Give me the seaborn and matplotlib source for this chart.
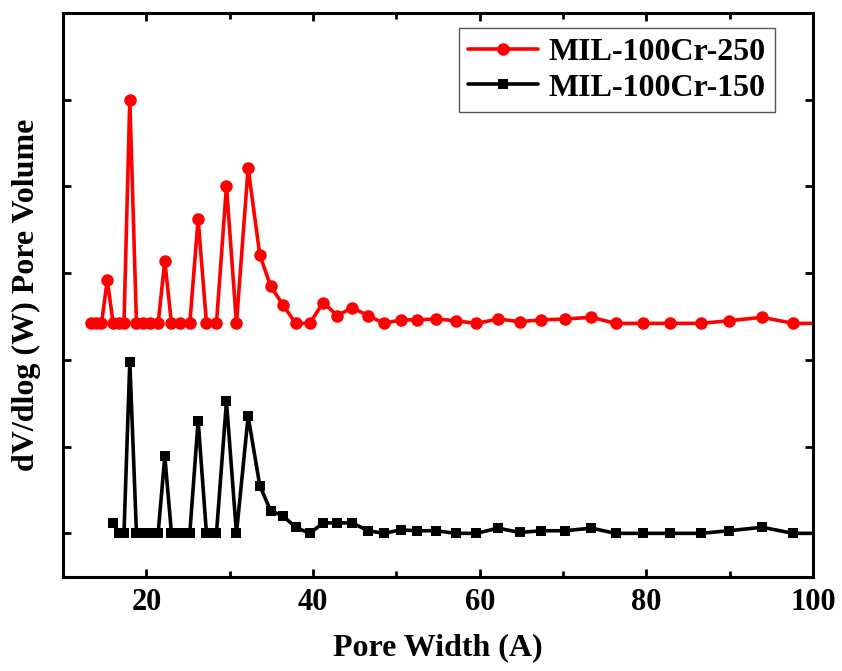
import numpy as np
import pandas as pd
import seaborn as sns
from matplotlib import pyplot as plt
from matplotlib.ticker import MultipleLocator, NullFormatter

# Pore width grid (A) shared by both samples
pore_width = [13.4, 14.0, 14.6, 15.3, 16.0, 16.7, 17.3, 18.0, 18.8, 19.6,
              20.4, 21.4, 22.2, 23.0, 24.0, 25.2, 26.2, 27.2, 28.4, 29.6,
              30.8, 32.2, 33.6, 34.9, 36.4, 37.9, 39.6, 41.2, 42.9, 44.7,
              46.6, 48.5, 50.5, 52.5, 54.8, 57.1, 59.6, 62.2, 64.8, 67.3,
              70.2, 73.4, 76.3, 79.6, 82.8, 86.5, 89.9, 93.9, 97.6, 101.5]

# dV/dlog(W) (offset curves, arbitrary units)
pv_250 = [2.42, 2.42, 2.42, 2.92, 2.42, 2.42, 2.42, 5.00, 2.42, 2.42,
          2.42, 2.42, 3.14, 2.42, 2.42, 2.42, 3.62, 2.42, 2.42, 4.00,
          2.42, 4.21, 3.21, 2.85, 2.63, 2.42, 2.42, 2.66, 2.51, 2.60,
          2.51, 2.42, 2.46, 2.46, 2.47, 2.45, 2.42, 2.47, 2.44, 2.46,
          2.47, 2.49, 2.42, 2.42, 2.42, 2.42, 2.45, 2.49, 2.42, 2.42]

# the 150 sample starts at 16.0 A
pv_150 = [0.12, 0.00, 0.00, 1.98, 0.00, 0.00,
          0.00, 0.00, 0.89, 0.00, 0.00, 0.00, 1.30, 0.00, 0.00, 1.52,
          0.00, 1.35, 0.55, 0.26, 0.20, 0.07, 0.00, 0.12, 0.12, 0.12,
          0.03, 0.00, 0.04, 0.03, 0.03, 0.00, 0.00, 0.06, 0.01, 0.03,
          0.03, 0.06, 0.00, 0.00, 0.00, 0.00, 0.03, 0.07, 0.00, 0.00]

labels = ['MIL-100Cr-250', 'MIL-100Cr-150']

sns.set_style("ticks")
plt.rcParams['font.family'] = ['Liberation Serif', 'DejaVu Serif']
plt.rcParams['font.weight'] = 'bold'
plt.rcParams['text.color'] = 'black'
plt.rcParams['axes.labelcolor'] = 'black'
plt.rcParams['xtick.color'] = 'black'
plt.rcParams['ytick.color'] = 'black'
plt.rcParams['axes.edgecolor'] = 'black'

fig = plt.figure(figsize=(8.42, 6.71), dpi=100)
ax = fig.add_axes([0.075, 0.1405, 0.8906, 0.8405])

sns.lineplot(x=pore_width, y=pv_250, color='#ff0000', marker='o', markersize=9,
             markeredgewidth=0, linewidth=2.6, label=labels[0], ax=ax)
sns.lineplot(x=pore_width[4:], y=pv_150, color='black', marker='s', markersize=7.5,
             markeredgewidth=0, linewidth=2.6, label=labels[1], ax=ax)

ax.set_xlim(10, 100)
ax.set_ylim(-0.5, 6.0)
ax.xaxis.set_major_locator(MultipleLocator(20))
ax.xaxis.set_minor_locator(MultipleLocator(10))
ax.yaxis.set_major_locator(MultipleLocator(1))
ax.yaxis.set_major_formatter(NullFormatter())
ax.tick_params(axis='both', which='both', direction='in', top=True, right=True, width=2)
ax.tick_params(which='major', length=6, labelsize=22, pad=8)
ax.tick_params(which='minor', length=4)
for lab in ax.get_xticklabels():
    lab.set_fontweight('bold')
for s in ax.spines.values():
    s.set_linewidth(2.2)

ax.set_xlabel('Pore Width (A)', fontsize=23, fontweight='bold', labelpad=12)
ax.set_ylabel('dV/dlog (W) Pore Volume', fontsize=23, fontweight='bold', labelpad=8)

leg = ax.legend(loc='upper right', bbox_to_anchor=(0.949, 0.973), borderaxespad=0,
                frameon=True, fancybox=False, handlelength=2.2, handletextpad=0.3,
                borderpad=0.3, labelspacing=0.2, prop={'weight': 'bold', 'size': 23})
leg.get_frame().set_edgecolor('#555555')
leg.get_frame().set_linewidth(1)
leg.get_frame().set_alpha(1)

fig.savefig('out.png', dpi=100)
